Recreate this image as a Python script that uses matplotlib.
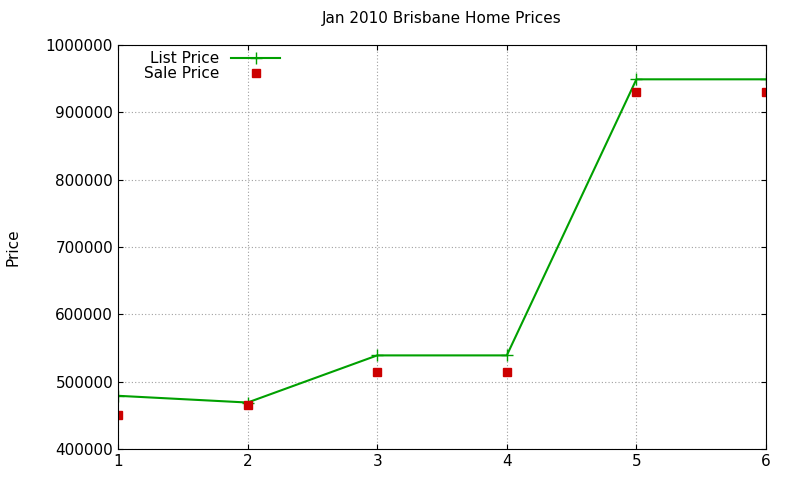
import matplotlib
matplotlib.use("Agg")
import matplotlib.pyplot as plt

x = [1, 2, 3, 4, 5, 6]
list_price = [479000, 469000, 539000, 539000, 949000, 949000]
sale_price = [451000, 466000, 515000, 515000, 930000, 930000]
yticks = [400000, 500000, 600000, 700000, 800000, 900000, 1000000]

fig = plt.figure(figsize=(8, 4.8), dpi=100)
ax = fig.add_axes([0.1475, 0.0646, 0.81, 0.8417])
ax.plot(x, list_price, color="#00a000", marker="+", markersize=8, lw=1.5, label="List Price")
ax.plot(x, sale_price, color="#cc0000", marker="s", markersize=6, ls="none", label="Sale Price")
ax.set_xlim(1, 6)
ax.set_ylim(400000, 1000000)
ax.set_yticks(yticks)
ax.set_yticklabels([str(v) for v in yticks])
ax.set_xticks(x)
ax.grid(True, color="#a0a0a0", ls=(0, (1, 2)), lw=0.8)
ax.tick_params(direction="in", labelsize=11, top=True, right=True)
fig.text(0.016, 0.485, "Price", rotation=90, fontsize=11, va="center", ha="center")
ax.set_title("Jan 2010 Brisbane Home Prices", fontsize=11, pad=16)
ax.legend(loc="upper left", bbox_to_anchor=(0.03, 1.0), frameon=False, markerfirst=False,
          fontsize=11, handlelength=3.2, borderaxespad=0.0, labelspacing=0.0)
fig.savefig("out.png")
